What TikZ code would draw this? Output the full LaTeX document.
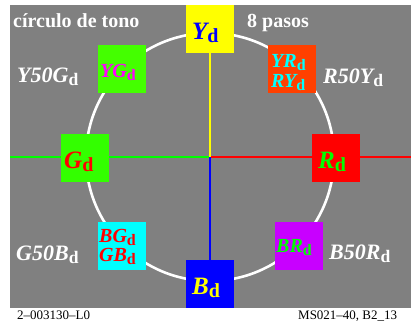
\documentclass[tikz,border=0pt]{standalone}
\usepackage{fontspec}
\setmainfont{Liberation Serif}
\usepackage{graphicx}
\newcommand{\sd}{{\upshape\raisebox{-0.15em}{\scalebox{0.8}{d}}}}
\definecolor{grayb}{RGB}{128,128,128}
\definecolor{gbox}{RGB}{51,255,0}
\definecolor{ygbox}{RGB}{68,255,0}
\definecolor{yrbox}{RGB}{255,64,0}
\definecolor{brbox}{RGB}{200,0,255}
\definecolor{ltgreen}{RGB}{0,255,0}
\definecolor{cyn}{RGB}{0,255,255}
\definecolor{mgt}{RGB}{255,0,255}
\definecolor{ylw}{RGB}{255,255,0}
\definecolor{rd}{RGB}{255,0,0}
\definecolor{bl}{RGB}{0,0,255}
\tikzset{
  box/.style={draw=none, minimum width=48pt, minimum height=48pt, inner sep=0pt},
  big/.style={anchor=base west, inner sep=0pt, font=\fontsize{25}{25}\selectfont\bfseries\itshape},
  mid/.style={anchor=base west, inner sep=0pt, font=\fontsize{20}{20}\selectfont\bfseries\itshape},
  outer/.style={anchor=base west, inner sep=0pt, text=white, font=\fontsize{22}{22}\selectfont\bfseries\itshape},
  ttl/.style={anchor=base west, inner sep=0pt, text=white, font=\fontsize{20}{20}\selectfont\bfseries},
  foot/.style={anchor=base west, inner sep=0pt, font=\fontsize{13}{13}\selectfont},
  axis/.style={line width=2.4pt}
}
\begin{document}
\begin{tikzpicture}[x=1pt,y=-1pt]
\useasboundingbox (0,0) rectangle (413,325);
\fill[white] (0,0) rectangle (413,325);
\fill[grayb] (10,5) rectangle (411,308);
\coordinate (O) at (210,157);
\coordinate (Lft) at (10,157);
\coordinate (Rgt) at (411,157);
\coordinate (Top) at (210,5);
\coordinate (Bot) at (210,308);
\draw[white, line width=2.6pt] (O) circle (124pt);
\draw[axis, ltgreen] (Lft) -- (O);
\draw[axis, rd] (O) -- (Rgt);
\draw[axis, ylw] (Top) -- (O);
\draw[axis, bl] (O) -- (Bot);
% boxes
\node[box, fill=ylw] (Y) at (210,29) {};
\node[box, fill=gbox] (G) at (84.5,157.5) {};
\node[box, fill=rd] (R) at (336,158) {};
\node[box, fill=bl] (B) at (210,284) {};
\node[box, fill=ygbox] (YG) at (122,69) {};
\node[box, fill=yrbox] (YR) at (292,69) {};
\node[box, fill=cyn] (BG) at (122,245.5) {};
\node[box, fill=brbox] (BR) at (299,245.5) {};
% box labels
\node[big, text=bl] (lY) at (192,39) {Y\sd};
\node[big, text=rd] (lG) at (64,168) {G\sd};
\node[big, text=ltgreen] (lR) at (318,168) {R\sd};
\node[big, text=ylw] (lB) at (192,294) {B\sd};
\node[mid, text=mgt] (lYG) at (100,77) {YG\sd};
\node[mid, text=cyn] (lYR) at (271,67) {YR\sd};
\node[mid, text=cyn] (lRY) at (271,87) {RY\sd};
\node[mid, text=rd] (lBG) at (99,242) {BG\sd};
\node[mid, text=rd] (lGB) at (99,261) {GB\sd};
\node[mid, text=ltgreen] (lBR) at (276,252) {BR\sd};
% outer labels
\node[outer] (o1) at (17,82) {Y50G\sd};
\node[outer] (o2) at (323,83) {R50Y\sd};
\node[outer] (o3) at (16,260) {G50B\sd};
\node[outer] (o4) at (329,259) {B50R\sd};
% titles
\node[ttl] (t1) at (13,27) {círculo de tono};
\node[ttl] (t2) at (247,27) {8 pasos};
\node[foot] (f1) at (17,319) {2–003130–L0};
\node[foot] (f2) at (298,319) {MS021–40, B2\_13};
\end{tikzpicture}
\end{document}
